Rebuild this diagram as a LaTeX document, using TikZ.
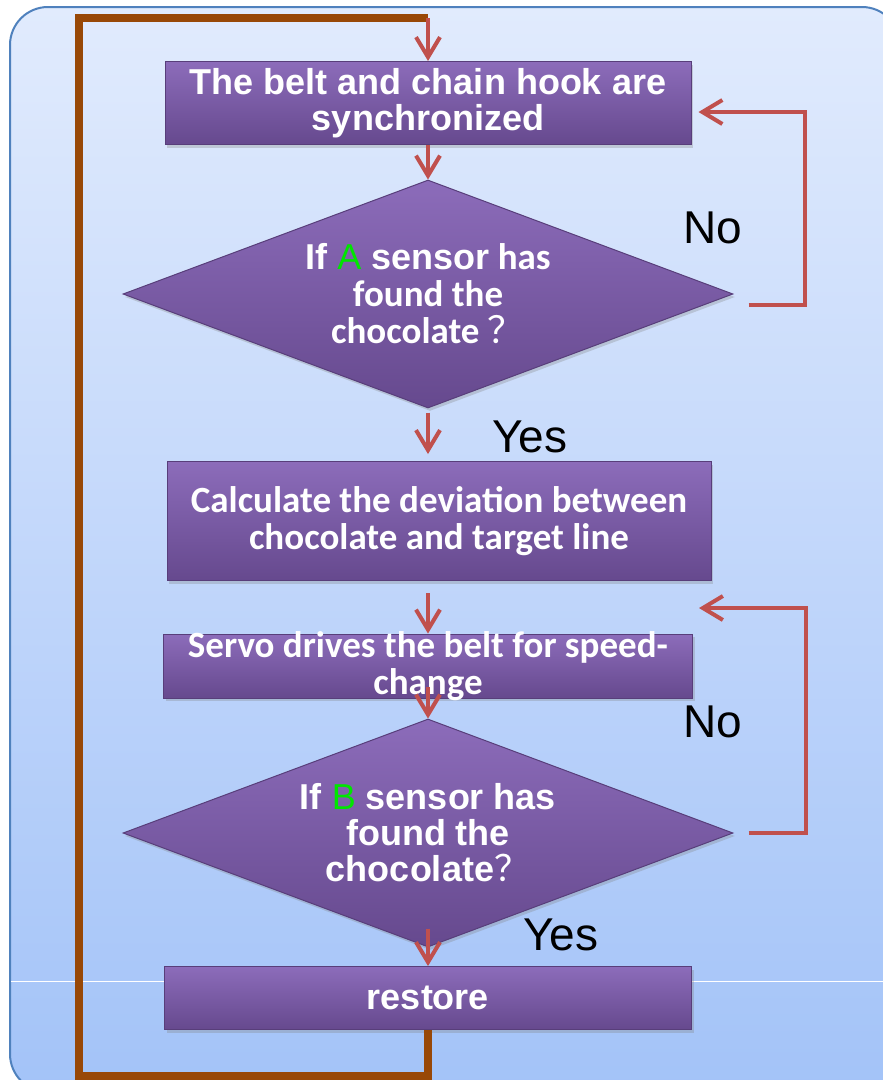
\documentclass[tikz,border=0pt]{standalone}
\usepackage{fontspec}
\setmainfont{Liberation Sans}
\newfontfamily\calibri{Carlito}
\newfontfamily\cjk{Noto Sans CJK SC}
\usetikzlibrary{shapes.geometric,arrows.meta,shadows}

\definecolor{flowred}{RGB}{192,80,77}
\definecolor{loopbrown}{RGB}{152,72,7}
\definecolor{bgtop}{RGB}{225,235,253}
\definecolor{bgbottom}{RGB}{163,195,248}
\definecolor{bgborder}{RGB}{79,129,189}
\definecolor{purpletop}{RGB}{140,108,186}
\definecolor{purplebottom}{RGB}{102,73,142}
\definecolor{purpleedge}{RGB}{88,62,122}
\definecolor{sensorgreen}{RGB}{0,230,0}

\tikzset{
  box/.style={rectangle, draw=purpleedge, line width=1pt, top color=purpletop,
    bottom color=purplebottom, text=white, align=center, inner sep=0pt,
    drop shadow={opacity=0.3, shadow xshift=2pt, shadow yshift=-3pt}},
  decision/.style={box, diamond, aspect=2.66, minimum width=610, minimum height=228},
  arialtext/.style={font=\bfseries\fontsize{36}{36}\selectfont},
  calibritext/.style={font=\calibri\bfseries\fontsize{37}{37}\selectfont},
  flow/.style={color=flowred, line width=4pt, -{Straight Barb[length=20pt,width=24pt]}},
  loopback/.style={draw=loopbrown, line width=8.5pt},
  answer/.style={font=\fontsize{46}{46}\selectfont, inner sep=0pt}
}

\begin{document}
\begin{tikzpicture}[x=1pt,y=-1pt]
  \useasboundingbox (0,0) rectangle (883,1080);
  % background panel
  \draw[draw=bgborder, line width=2pt, top color=bgtop, bottom color=bgbottom,
    rounded corners=38pt] (10,7) rectangle (900,1092);
  \draw[white, line width=1pt] (11,981) -- (883,981);

  \node[box, arialtext, minimum width=526, minimum height=83] (sync) at (428,103)
    {The belt and chain hook are\\synchronized};
  \node[decision, calibritext] (chkA) at (428,294)
    {{\normalfont\bfseries\fontsize{36}{37}\selectfont If {\color{sensorgreen}\mdseries A} sensor} has\\found the\\chocolate {\mdseries\cjk ？}};
  \node[box, calibritext, minimum width=544, minimum height=119] (calc) at (439,521)
    {Calculate the deviation between\\chocolate and target line};
  \node[box, minimum width=529, minimum height=64,
    label={[calibritext, text=white, align=center]center:{Servo drives the belt for speed-\\change}}]
    (servo) at (428,666) {};
  \node[decision, arialtext] (chkB) at (428,833)
    {If {\color{sensorgreen}\mdseries B} sensor has\\found the\\chocolate{\mdseries\cjk ？}};
  \node[box, arialtext, minimum width=527, minimum height=63] (restore) at (428,998) {restore};

  \node[answer] (noA) at (713,228) {No};
  \node[answer] (yesA) at (530,437) {Yes};
  \node[answer] (noB) at (713,722) {No};
  \node[answer] (yesB) at (561,935) {Yes};

  \coordinate (top) at (428,18);
  \coordinate (corner) at (79,1076);
  \coordinate (turnA) at (805,112);
  \coordinate (turnB) at (806,608);

  % return to the start
  \draw[loopback] (restore.south) |- (corner) |- (top);

  \path[flow]
    (top) edge (sync.north)
    (sync.south) edge (chkA.north)
    (chkA.south) edge [shorten <=4pt, shorten >=7pt] (chkA.south |- calc.north)
    (calc.south -| servo.north) edge [shorten <=12pt] (servo.north)
    (servo.south) edge [shorten <=-12pt] (chkB.north)
    (chkB.south) edge [shorten <=-19pt] (restore.north);

  \draw[flow, shorten >=7pt] ([xshift=15pt,yshift=-11pt]chkA.east) -| (turnA) -- (turnA -| sync.east);
  \draw[flow, shorten >=6pt] ([xshift=15pt]chkB.east) -| (turnB) -- (turnB -| servo.east);
\end{tikzpicture}
\end{document}
